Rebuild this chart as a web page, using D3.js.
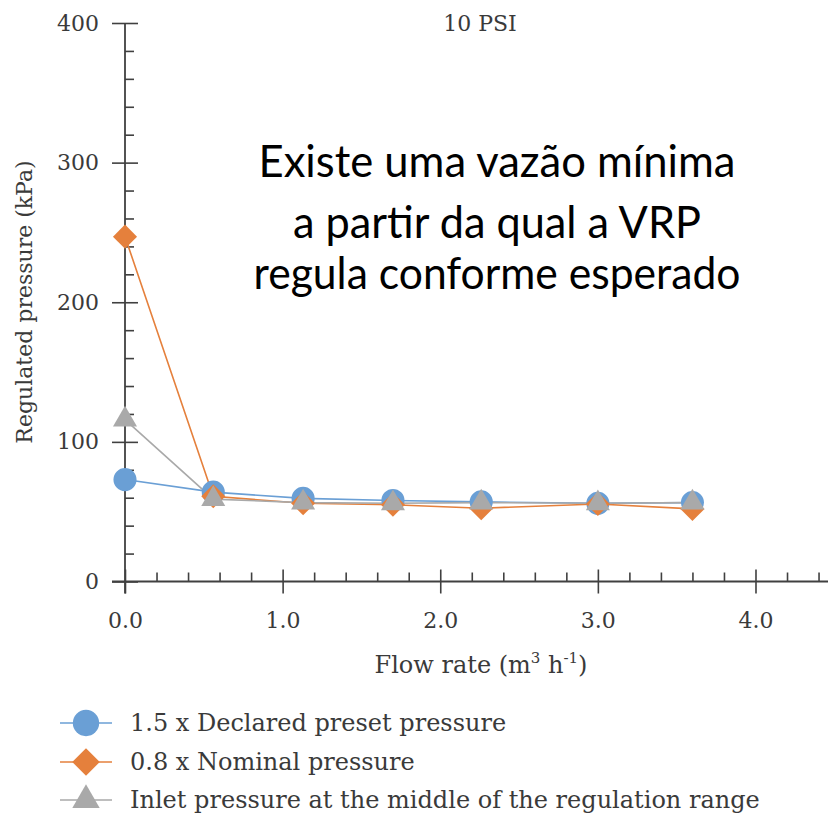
<!DOCTYPE html>
<html>
<head>
<meta charset="utf-8">
<script src="https://cdn.jsdelivr.net/npm/d3@7"></script>
<style>
  html, body { margin: 0; padding: 0; background: #fff; }
  svg { display: block; }
</style>
</head>
<body>
<svg id="chart" width="830" height="819"></svg>
<script>
// ---- data ----
const flowRate = [0, 0.56, 1.13, 1.70, 2.26, 3.00, 3.60];
const declaredPreset = [73, 64, 59.5, 58, 57, 56, 56.5];
const nominalPressure = [247, 61, 56, 55, 52.5, 55.5, 52];
const inletMiddle = [116, 59, 56.5, 56, 56.5, 56, 56.5];
const seriesNames = [
  "1.5 x Declared preset pressure",
  "0.8 x Nominal pressure",
  "Inlet pressure at the middle of the regulation range"
];
const xTickValues = [0, 1, 2, 3, 4];
const xMinorTicks = [0.2,0.4,0.6,0.8,1.2,1.4,1.6,1.8,2.2,2.4,2.6,2.8,3.2,3.4,3.6,3.8,4.2,4.4];
const yTickValues = [0, 100, 200, 300, 400];
const yMinorTicks = [20,40,60,80,120,140,160,180,220,240,260,280,320,340,360,380];
const chartTitle = "10 PSI";
const annotationLines = ["Existe uma vazão mínima", "a partir da qual a VRP", "regula conforme esperado"];

// ---- layout ----
const svg = d3.select("#chart");
const axisColor = "#404040";
const textColor = "#3a3a3a";
const serif = "'DejaVu Serif', serif";
const colors = ["#6a9fd5", "#e5803c", "#a9a9a9"];

const x = d3.scaleLinear().domain([0, 4.46]).range([125, 828]);
const y = d3.scaleLinear().domain([0, 400]).range([581.5, 23]);
const y0 = y(0), x0 = x(0);

function styleAxis(g) {
  g.select(".domain").remove();
  g.selectAll(".tick line").attr("stroke", axisColor).attr("stroke-width", 1.6);
  g.selectAll(".tick text").attr("fill", textColor)
    .style("font-family", serif).style("font-size", "22px");
}

// minor ticks
svg.append("g").attr("transform", `translate(0,${y0})`)
  .call(d3.axisTop(x).tickValues(xMinorTicks).tickSize(9).tickFormat(""))
  .call(styleAxis);
svg.append("g").attr("transform", `translate(${x0},0)`)
  .call(d3.axisRight(y).tickValues(yMinorTicks).tickSize(9).tickFormat(""))
  .call(styleAxis);

// major ticks (crossing the axis)
svg.append("g").attr("transform", `translate(0,${y0 - 12})`)
  .call(d3.axisBottom(x).tickValues(xTickValues).tickSize(24).tickPadding(19).tickFormat(d3.format(".1f")))
  .call(styleAxis);
svg.append("g").attr("transform", `translate(${x0 + 13},0)`)
  .call(d3.axisLeft(y).tickValues(yTickValues).tickSize(26).tickPadding(13))
  .call(styleAxis);

// axis lines
svg.append("line").attr("x1", x0 - 13).attr("x2", x.range()[1]).attr("y1", y0).attr("y2", y0)
  .attr("stroke", axisColor).attr("stroke-width", 1.8);
svg.append("line").attr("x1", x0).attr("x2", x0).attr("y1", y(400)).attr("y2", y0 + 12)
  .attr("stroke", axisColor).attr("stroke-width", 1.8);

// axis titles
const xt = svg.append("text").attr("x", 481).attr("y", 673).attr("text-anchor", "middle")
  .attr("fill", textColor).style("font-family", serif).style("font-size", "24px");
xt.append("tspan").text("Flow rate (m");
xt.append("tspan").attr("dy", -10).style("font-size", "15px").text("3");
xt.append("tspan").attr("dy", 10).text(" h");
xt.append("tspan").attr("dy", -10).style("font-size", "15px").text("-1");
xt.append("tspan").attr("dy", 10).text(")");

svg.append("text").attr("transform", `translate(32,302) rotate(-90)`).attr("text-anchor", "middle")
  .attr("fill", textColor).style("font-family", serif).style("font-size", "22px")
  .text("Regulated pressure (kPa)");

// title
svg.append("text").attr("x", 480).attr("y", 31).attr("text-anchor", "middle")
  .attr("fill", textColor).style("font-family", serif).style("font-size", "22px")
  .text(chartTitle);

// series
const symbolTypes = [d3.symbolCircle, d3.symbolSquare, d3.symbolTriangle];
const symbolSizes = [420, 290, 250];
const symbols = symbolTypes.map((t, i) => d3.symbol().type(t).size(symbolSizes[i]));
const legendSymbols = symbolTypes.map((t, i) => d3.symbol().type(t).size(symbolSizes[i] * 1.3));
const rotations = [0, 45, 0];
const allSeries = [declaredPreset, nominalPressure, inletMiddle];
const line = d3.line().x(d => x(d[0])).y(d => y(d[1]));

allSeries.forEach((vals, i) => {
  const pts = flowRate.map((f, j) => [f, vals[j]]);
  svg.append("path").datum(pts).attr("d", line).attr("fill", "none")
    .attr("stroke", colors[i]).attr("stroke-width", 1.6);
});
allSeries.forEach((vals, i) => {
  const pts = flowRate.map((f, j) => [f, vals[j]]);
  svg.append("g").selectAll("path").data(pts).join("path")
    .attr("d", symbols[i])
    .attr("transform", d => `translate(${x(d[0])},${y(d[1])}) rotate(${rotations[i]})`)
    .attr("fill", colors[i]);
});

// legend
const legendRows = [723, 762, 800];
seriesNames.forEach((name, i) => {
  const g = svg.append("g").attr("transform", `translate(0,${legendRows[i]})`);
  g.append("line").attr("x1", 60).attr("x2", 112).attr("y1", 0).attr("y2", 0)
    .attr("stroke", colors[i]).attr("stroke-width", 1.6);
  g.append("path").attr("d", legendSymbols[i]).attr("transform", `translate(86,0) rotate(${rotations[i]})`)
    .attr("fill", colors[i]);
  g.append("text").attr("x", 130).attr("y", 8).attr("fill", textColor)
    .style("font-family", serif).style("font-size", "24px").text(name);
});

// annotation
const annWidths = [477, 408, 487];
const annBaselines = [177, 237.5, 289];
annotationLines.forEach((t, i) => {
  svg.append("text").attr("x", 497).attr("y", annBaselines[i]).attr("text-anchor", "middle")
    .attr("fill", "#000").style("font-family", "Lato, 'Open Sans', sans-serif").style("font-size", "44px")
    .attr("textLength", annWidths[i]).attr("lengthAdjust", "spacingAndGlyphs")
    .text(t);
});
</script>
</body>
</html>
